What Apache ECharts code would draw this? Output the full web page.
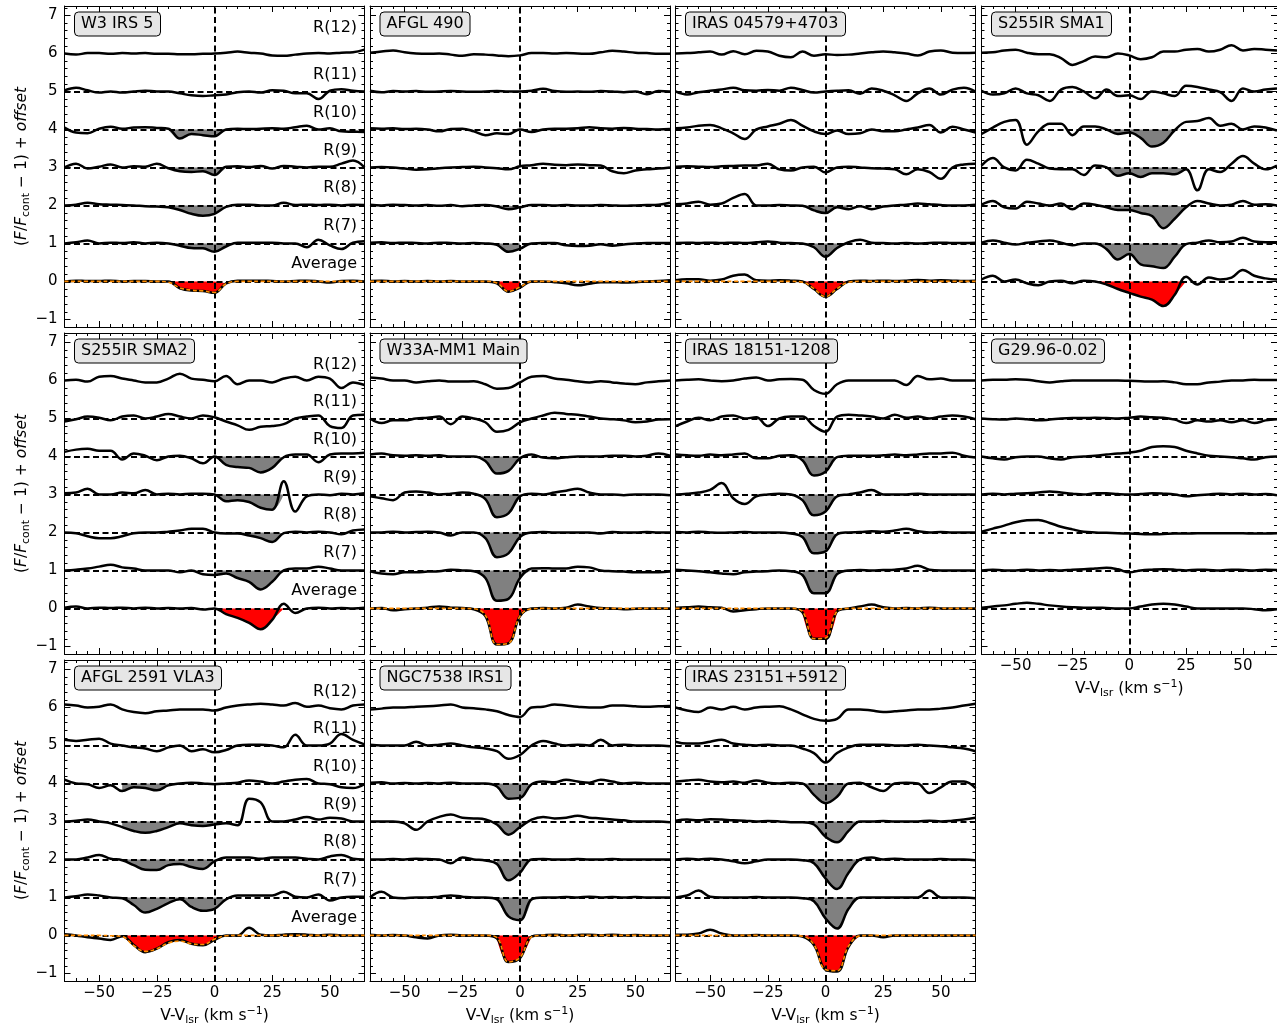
<!DOCTYPE html>
<html>
<head>
<meta charset="utf-8">
<title>R-branch absorption spectra</title>
<script src="https://cdn.jsdelivr.net/npm/echarts@6.0.0/dist/echarts.min.js"></script>
<style>
  html, body { margin: 0; padding: 0; background: #ffffff; }
  #chart { width: 1277px; height: 1027px; }
</style>
</head>
<body>
<div id="chart"></div>
<script>
// velocity grid, km/s
const velocity = [-65, -60, -55, -50, -45, -40, -35, -30, -25,  -20, -15, -10, -5, 0, 5, 10, 15, 20,  25, 30, 35, 40, 45, 50, 55, 60, 65];
const offsets = [6, 5, 4, 3, 2, 1, 0];
const lineNames = ['R(12)', 'R(11)', 'R(10)', 'R(9)', 'R(8)', 'R(7)', 'Average'];
const xTickLabels = [-50, -25, 0, 25, 50];
const yTickLabels = [-1, 0, 1, 2, 3, 4, 5, 6, 7];

// F/Fcont - 1 per line (offset added when drawn)
// W3 IRS 5
const w3_r12 = [0, -0.03, 0.01, 0.01, -0.01, 0.01, 0, 0.01, -0.01,  -0.01, -0.02, -0.02, -0.01, 0, 0.02, 0.05, 0.02, 0,  -0.05, -0.06, -0.03, 0, 0.01, 0, 0.02, 0.03, 0.1];
const w3_r11 = [0.03, 0.1, 0.03, -0.03, 0, -0.03, 0, 0.02, 0,  0, -0.05, -0.1, -0.12, -0.1, -0.08, -0.02, 0, -0.03,  0.03, 0.02, -0.05, -0.05, -0.2, 0.02, 0.06, 0.02, 0];
const w3_r10 = [0.05, -0.08, -0.1, 0.02, 0.07, 0.02, 0.05, 0.06, 0.04,  0.02, -0.24, -0.12, -0.15, -0.18, 0, 0.02, 0.01, 0.02,  0.03, 0.02, 0.06, 0.1, 0, 0.03, -0.05, -0.06, -0.07];
const w3_r9  = [0, 0.1, -0.03, 0.02, 0.08, 0, 0.03, 0.02, 0.1,  -0.02, -0.1, -0.12, -0.1, -0.2, 0.02, 0.03, 0.01, 0.04,  -0.03, 0.04, 0.02, 0, 0.02, 0.02, 0.1, 0.18, 0];
const w3_r8  = [0, 0.02, 0.07, 0.03, 0.02, 0.01, 0, -0.02, -0.03,  -0.05, -0.12, -0.22, -0.27, -0.22, -0.04, 0.02, 0.02, 0,  0, 0.07, 0.01, 0.02, 0.01, 0.02, 0, 0.02, 0.01];
const w3_r7  = [0, 0.03, 0.08, 0, 0.02, 0.01, 0.03, 0, 0.02,  0, -0.06, -0.12, -0.13, -0.22, -0.08, 0.02, 0.02, 0.02,  0.02, 0, 0, -0.1, 0.1, -0.05, -0.15, 0.02, 0.06];
const w3_avg = [0, 0.02, 0.01, 0.01, 0.02, 0, 0.01, 0.01, 0,  0, -0.18, -0.24, -0.25, -0.3, -0.05, 0.02, 0.02, 0.02,  0.01, 0, 0.01, 0.02, 0, -0.03, 0.01, 0.02, 0];
const w3_fit = [0, 0, 0, 0, 0, 0, 0, 0, 0,  -0.02, -0.17, -0.23, -0.25, -0.29, -0.06, 0, 0, 0,  0, 0, 0, 0, 0, 0, 0, 0, 0];

// AFGL 490
const a490_r12 = [0.02, 0.05, 0.08, 0.03, 0, -0.01, 0, -0.03, -0.06,  -0.02, -0.03, -0.05, -0.07, -0.05, 0.01, 0.01, 0, 0.01,  0, -0.01, 0.03, 0.07, 0.05, 0.02, 0.01, -0.01, -0.01];
const a490_r11 = [0.02, -0.02, 0.01, 0, 0.01, -0.01, 0, 0.01, 0,  -0.01, 0, 0.01, 0, 0, 0.02, 0.07, 0.01, -0.01,  0, -0.01, 0.01, 0, -0.02, 0, -0.07, 0.01, 0];
const a490_r10 = [0.03, 0.02, 0.03, 0.01, 0.02, 0, -0.05, 0.01, 0.02,  -0.05, -0.15, -0.1, -0.12, 0, -0.07, 0, 0.02, 0.02,  0.03, 0.06, 0.03, 0.02, 0.04, 0.02, 0.01, 0, 0.01];
const a490_r9  = [0, 0.01, 0, -0.03, -0.06, -0.05, -0.02, 0, 0.01,  0.02, 0, -0.02, -0.05, 0.03, 0.06, 0.1, 0.07, 0.06,  0.08, 0.06, 0.05, -0.1, -0.15, -0.08, -0.05, -0.03, 0];
const a490_r8  = [0.02, 0, 0.02, 0.01, 0, 0.01, -0.01, 0.01, -0.02,  0, 0.01, -0.03, -0.1, -0.05, 0.01, 0.01, 0, 0.01,  0, 0, 0.01, 0, -0.01, 0, 0.01, 0.02, 0.07];
const a490_r7  = [0.02, 0.03, 0.01, 0.02, 0.01, 0, 0.02, 0.01, 0,  0.01, 0, -0.04, -0.22, -0.14, 0, 0.01, 0.01, -0.05,  -0.07, -0.06, -0.02, -0.06, -0.03, 0, 0.01, 0.01, 0.01];
const a490_avg = [0.01, 0.02, 0, 0.01, 0, 0.01, 0, 0.01, 0,  0, 0, -0.05, -0.27, -0.16, 0, 0, -0.02, -0.05,  -0.1, -0.06, -0.02, -0.02, -0.03, -0.02, 0, 0.01, 0.03];
const a490_fit = [0, 0, 0, 0, 0, 0, 0, 0, 0,  0, 0, -0.04, -0.26, -0.15, 0, 0, 0, 0,  0, 0, 0, 0, 0, 0, 0, 0, 0];

// IRAS 04579+4703
const i0457_r12 = [0, 0.01, 0.03, 0.05, -0.03, 0.06, -0.02, 0.07, 0.05,  -0.06, -0.1, 0.05, -0.06, -0.02, -0.04, -0.03, 0, 0.03,  0.05, 0.03, 0, -0.05, 0.05, 0.08, 0.02, 0.01, 0.02];
const i0457_r11 = [0, -0.08, -0.02, 0.02, 0.05, 0.1, 0.03, 0.02, 0.04,  0.02, 0.1, 0.04, -0.03, 0, 0.02, 0.03, -0.06, 0.08,  0.02, -0.1, -0.25, -0.05, 0.08, -0.08, 0.05, 0.1, 0];
const i0457_r10 = [0.03, 0.05, 0.1, 0.12, 0.03, -0.1, -0.25, 0, 0.08,  0.15, 0.25, 0.1, -0.05, -0.12, -0.03, -0.12, -0.1, 0,  -0.05, -0.05, 0, 0.05, 0.12, -0.08, 0.07, 0, -0.08];
const i0457_r9  = [0.02, 0.03, 0.02, 0.01, 0.03, 0.04, 0.05, 0.05, 0.1,  -0.05, -0.08, 0, 0.02, -0.13, 0, 0.02, 0, -0.02,  -0.03, -0.05, -0.18, -0.05, -0.12, -0.3, 0, 0.08, 0.1];
const i0457_r8  = [0.03, 0.05, 0.1, 0.02, 0.05, 0.2, 0.3, 0, 0,  0.01, 0, -0.01, -0.13, -0.2, -0.05, -0.1, -0.02, -0.1,  -0.03, 0, 0.02, 0.05, 0.03, 0.01, 0, 0, 0.02];
const i0457_r7  = [0.01, 0.02, 0.01, 0.02, 0.01, 0.02, 0.01, 0.03, 0.05,  0.02, 0.01, 0, -0.1, -0.35, -0.12, 0.03, 0.1, 0.02,  0.01, 0, 0.01, 0, 0.01, 0.02, 0.01, 0.01, 0.02];
const i0457_avg = [0.03, 0.06, 0.06, 0.02, 0.05, 0.15, 0.18, 0.03, 0.02,  0.03, 0.02, 0, -0.2, -0.4, -0.2, 0, 0.02, 0.01,  0.02, 0.01, 0.02, 0.04, 0.02, 0.03, 0.02, 0.01, 0.02];
const i0457_fit = [0, 0, 0, 0, 0, 0, 0, 0, 0,  0, 0, -0.02, -0.19, -0.4, -0.19, -0.02, 0, 0,  0, 0, 0, 0, 0, 0, 0, 0, 0];

// S255IR SMA1
const s1_r12 = [0.02, 0.03, 0.08, 0.1, 0.02, -0.02, -0.02, -0.12, -0.3,  -0.2, -0.08, -0.1, 0, -0.05, -0.15, -0.1, 0.05, 0.05,  0.1, 0.12, 0.05, 0.1, 0.22, 0.08, 0.12, 0.1, 0.08];
const s1_r11 = [0.02, -0.08, -0.05, 0.08, -0.05, -0.1, -0.25, 0.05, 0.12,  0, -0.18, 0.05, -0.12, -0.1, -0.2, 0, -0.05, -0.12,  0.15, 0.12, 0.05, -0.02, -0.25, 0.08, 0, 0.05, 0.08];
const s1_r10 = [-0.12, 0.05, 0.2, 0.25, -0.4, -0.05, 0.15, 0.15, -0.15,  0.08, 0.08, 0, -0.12, -0.08, -0.22, -0.45, -0.35, -0.02,  0.2, 0.22, 0.3, 0.1, 0.15, 0, 0.08, 0.05, -0.03];
const s1_r9  = [0.05, 0.25, 0, -0.08, 0.2, 0.1, -0.03, -0.05, -0.05,  -0.2, 0.05, 0, -0.22, -0.15, -0.25, -0.15, -0.15, -0.18,  -0.05, -0.6, -0.05, -0.12, 0.1, 0.3, 0.1, -0.05, 0.05];
const s1_r8  = [0.02, 0.12, -0.05, -0.08, 0.1, 0.05, 0, 0.05, -0.1,  0.05, 0.02, -0.05, -0.12, -0.12, -0.2, -0.28, -0.6, -0.35,  -0.05, 0.12, 0.05, 0, 0.02, 0.12, 0.02, 0.03, 0];
const s1_r7  = [0.02, 0.08, 0.02, -0.03, 0.02, 0.05, 0.08, 0.02, -0.05,  0, 0, -0.15, -0.42, -0.28, -0.55, -0.6, -0.65, -0.35,  -0.02, 0.02, 0.08, 0.03, 0.05, 0.15, 0.05, 0.03, 0.03];
const s1_avg = [0.05, 0.15, 0, 0.05, -0.05, -0.1, 0, 0.02, -0.05,  0.02, 0, -0.08, -0.2, -0.3, -0.4, -0.48, -0.65, -0.35,  0.12, -0.08, 0.1, 0.05, 0.1, 0.3, 0.15, 0.08, 0.05];

// S255IR SMA2
const s2_r12 = [0, 0.02, -0.03, 0.1, 0.12, 0.05, 0, -0.05, -0.05,  0.05, 0.18, 0.05, 0.02, -0.02, 0.12, -0.1, 0, 0,  -0.05, 0.05, 0.1, 0, 0.1, 0.05, -0.2, -0.05, -0.12];
const s2_r11 = [-0.08, -0.02, 0.05, 0.02, -0.05, 0.05, 0.08, 0, 0.05,  0.12, 0.05, 0, 0.08, 0.03, -0.08, -0.18, -0.3, -0.22,  -0.2, -0.15, 0, 0.05, 0.08, -0.2, -0.25, 0.08, 0.1];
const s2_r10 = [0.12, 0.18, 0.2, 0.15, 0.15, -0.08, 0.08, 0.02, -0.1,  0, 0.02, -0.05, -0.18, 0, -0.22, -0.28, -0.3, -0.42,  -0.3, -0.02, 0.05, 0.05, -0.15, 0.05, 0.08, 0.08, 0.1];
const s2_r9  = [0.03, 0.05, 0.15, 0, 0, 0.05, 0.03, 0.12, 0,  0.02, 0, 0.02, 0.02, 0, -0.18, -0.15, -0.2, -0.35,  -0.4, 0.35, -0.45, -0.05, 0, -0.02, 0.02, 0, 0.03];
const s2_r8  = [0, -0.02, -0.1, -0.15, -0.15, -0.1, -0.02, 0, 0,  0.02, 0.05, 0.1, 0.1, 0, -0.03, -0.03, -0.08, -0.15,  -0.25, -0.02, 0.02, 0, 0.02, 0, -0.05, 0.05, 0.08];
const s2_r7  = [0, 0.02, 0.05, 0.1, 0.15, 0.08, 0.05, 0, 0,  0, -0.05, 0, -0.1, -0.12, -0.08, -0.2, -0.3, -0.5,  -0.3, 0, 0.05, 0.05, 0.1, 0.05, 0, 0, 0];
const s2_avg = [0.02, 0.05, 0, 0.02, 0.01, 0.02, 0, 0.02, 0,  0.01, 0, 0.01, -0.03, 0, -0.15, -0.25, -0.38, -0.55,  -0.3, 0.12, -0.12, 0, 0.02, 0, 0.01, 0, 0.02];

// W33A-MM1 Main
const w33_r12 = [0.08, 0.05, 0, 0, -0.05, -0.02, 0, -0.03, -0.03,  -0.02, -0.1, -0.22, -0.2, -0.05, 0.1, 0.12, 0.05, 0.02,  -0.02, -0.05, -0.02, -0.05, -0.08, -0.1, -0.05, -0.02, 0];
const w33_r11 = [0, -0.12, -0.05, -0.05, 0, 0.02, 0.05, -0.15, 0.05,  0, -0.1, -0.35, -0.3, -0.1, 0, 0.08, 0.15, 0.12,  0.1, 0.05, 0, -0.02, -0.05, -0.1, -0.08, -0.03, -0.02];
const w33_r10 = [0.05, 0.08, 0.03, 0.02, 0.03, 0.02, 0.03, 0, 0,  0, -0.12, -0.45, -0.38, -0.05, 0.05, -0.03, -0.05, -0.02,  0, 0, 0, 0.02, 0.02, 0, 0.02, 0.08, 0.02];
const w33_r9  = [-0.05, -0.1, -0.15, 0.05, 0.08, 0.05, 0, 0.02, 0.05,  0.02, -0.12, -0.6, -0.5, -0.05, 0.02, 0, 0.05, 0.1,  0.15, 0.05, 0, 0, -0.02, 0, 0, 0, -0.02];
const w33_r8  = [0, 0, 0.02, 0, 0.01, 0.02, 0, -0.08, 0,  0, -0.15, -0.65, -0.55, -0.12, 0, 0.01, 0, 0,  0, 0, -0.03, 0.01, 0, 0, 0.01, 0, 0];
const w33_r7  = [-0.02, -0.08, -0.1, -0.05, -0.05, -0.03, -0.02, 0.02, 0,  -0.02, -0.2, -0.8, -0.75, -0.2, 0.05, 0.06, 0.05, 0.05,  0.1, 0.08, 0, -0.02, -0.03, -0.05, -0.05, -0.05, -0.03];
const w33_avg = [0, 0.01, -0.05, -0.02, 0, 0.02, 0.05, 0.02, 0.01,  -0.02, -0.2, -0.95, -0.92, -0.2, 0, 0.01, 0, 0.02,  0.1, 0.05, 0.01, 0, -0.02, -0.01, 0, 0, 0];
const w33_fit = [0, 0, 0, 0, 0, 0, 0, 0, 0,  -0.01, -0.18, -0.95, -0.92, -0.2, -0.01, 0, 0, 0,  0, 0, 0, 0, 0, 0, 0, 0, 0];

// IRAS 18151-1208
const i18_r12 = [0, 0.02, 0.03, 0, -0.02, 0, 0.05, 0.08, 0,  0.03, 0.04, 0.02, -0.25, -0.35, -0.1, 0, 0, 0,  0, 0, -0.12, 0.12, 0.03, 0.05, 0, 0, 0];
const i18_r11 = [-0.2, -0.08, 0.02, -0.05, 0.05, 0.08, 0, 0.03, -0.2,  0, 0.05, 0.05, -0.2, -0.35, 0.05, 0.1, 0.08, 0.05,  0, 0.1, 0.02, 0.05, 0, 0.05, 0.08, 0.05, -0.02];
const i18_r10 = [0.05, 0.03, 0.02, 0.05, 0.03, 0.05, 0.08, -0.05, -0.05,  0.02, 0.03, -0.1, -0.5, -0.4, -0.02, 0.02, 0.02, 0.02,  0.03, 0.05, 0.03, 0.05, 0.08, 0.08, 0.1, 0.02, -0.03];
const i18_r9  = [0, 0.02, 0.05, 0.12, 0.3, -0.1, -0.25, -0.05, 0,  0.02, 0, -0.15, -0.55, -0.45, -0.05, 0, 0.05, 0.12,  0, 0, 0, 0.02, 0, 0, 0, 0, 0];
const i18_r8  = [0.01, 0, 0.02, 0, -0.01, 0, 0.01, 0, 0,  0, -0.03, -0.12, -0.55, -0.5, -0.05, 0, 0.01, 0.03,  0.02, 0.05, 0.1, 0.03, 0, 0.01, 0, 0, 0];
const i18_r7  = [0.02, 0, -0.02, -0.05, -0.08, -0.1, -0.05, -0.03, -0.02,  0, -0.02, -0.12, -0.6, -0.6, -0.1, 0, 0.01, 0,  0.01, 0.02, 0.05, 0.12, 0.02, 0, 0, 0, 0];
const i18_avg = [0.02, 0.03, 0.05, 0.03, 0.02, -0.08, -0.05, -0.02, 0,  0, 0, -0.1, -0.8, -0.8, -0.08, 0, 0.05, 0.1,  0.03, 0, 0.01, 0, 0.02, 0, 0, 0, 0];
const i18_fit = [0, 0, 0, 0, 0, 0, 0, 0, 0,  0, 0, -0.08, -0.8, -0.78, -0.08, 0, 0, 0,  0, 0, 0, 0, 0, 0, 0, 0, 0];

// G29.96-0.02
const g29_r12 = [0, 0.02, 0.02, 0.03, 0.02, -0.02, -0.05, -0.02, 0,  0, 0, 0, 0, -0.01, -0.02, -0.03, -0.02, -0.05,  -0.1, -0.1, -0.05, -0.03, 0, 0, 0.02, 0.01, 0.01];
const g29_r11 = [0, -0.02, -0.03, 0, -0.02, -0.05, -0.03, 0, 0.01,  0.01, 0.02, 0.01, 0, 0.02, 0.05, 0.03, 0.02, -0.03,  -0.12, -0.05, -0.08, -0.05, -0.1, -0.05, -0.12, -0.05, -0.02];
const g29_r10 = [0, -0.05, -0.08, -0.02, 0, 0, -0.05, -0.08, -0.02,  0, 0.02, 0.05, 0.08, 0.1, 0.15, 0.25, 0.27, 0.25,  0.15, 0.08, 0.02, 0, -0.02, -0.05, -0.08, -0.02, 0];
const g29_r9  = [0, 0.02, 0, 0.02, 0.03, 0.05, 0.08, 0.05, 0.02,  0, 0.03, 0.03, 0.01, 0, 0.01, 0.03, 0.02, 0,  -0.05, -0.02, 0, 0.02, 0, 0.02, 0, 0.01, -0.02];
const g29_r8  = [0.02, 0.1, 0.18, 0.27, 0.32, 0.33, 0.25, 0.15, 0.08,  0.02, 0, -0.01, -0.02, -0.03, -0.04, -0.05, -0.04, -0.03,  -0.03, -0.02, -0.02, -0.02, -0.02, -0.02, -0.03, -0.03, -0.02];
const g29_r7  = [0, 0.02, 0, 0, 0.02, 0, 0.01, 0, 0.02,  0.03, 0.05, 0.07, 0.03, -0.05, 0, 0.02, 0.03, 0.02,  0, 0.02, 0.01, 0, 0.02, 0.01, 0, 0.02, 0.01];
const g29_avg = [0.02, 0.05, 0.08, 0.12, 0.15, 0.12, 0.08, 0.05, 0.03,  0.02, 0.02, 0.01, 0, 0, 0.05, 0.1, 0.12, 0.1,  0.05, 0, 0, 0, 0, 0, -0.02, -0.05, -0.02];

// AFGL 2591 VLA3
const a2591_r12 = [0.08, 0.05, 0, 0.02, 0.08, -0.05, -0.12, -0.15, -0.1,  -0.08, -0.05, -0.05, -0.05, -0.08, 0, 0.05, 0.08, 0.1,  0.08, 0.05, 0.12, 0.02, 0.05, -0.02, -0.05, 0.05, 0.08];
const a2591_r11 = [0.15, 0.12, 0.15, 0.18, 0.05, 0, -0.05, -0.08, -0.15,  -0.05, 0, -0.15, -0.1, -0.18, -0.12, 0, 0.02, 0.02,  0, -0.05, 0.28, 0, 0, 0.05, 0.3, 0.15, 0.03];
const a2591_r10 = [0.1, 0, -0.02, -0.12, -0.05, -0.2, -0.1, -0.12, -0.18,  -0.05, 0, 0.02, 0, -0.02, 0, 0.02, 0.08, 0.05,  0, 0.05, 0.1, 0.12, 0, -0.02, -0.1, -0.12, -0.02];
const a2591_r9  = [0, 0.02, 0.05, 0, -0.05, -0.15, -0.25, -0.3, -0.25,  -0.15, -0.05, -0.1, -0.12, -0.08, -0.05, -0.1, 0.6, 0.5,  0, 0, 0.05, 0.12, 0.05, 0.1, 0.08, 0, 0];
const a2591_r8  = [0, 0, 0.05, 0.12, 0.02, -0.02, -0.15, -0.27, -0.28,  -0.15, -0.12, -0.2, -0.25, -0.05, 0.05, 0.05, 0.05, 0.02,  0.05, 0.05, 0.05, 0.02, 0, 0.08, 0.12, 0.02, 0];
const a2591_r7  = [0, 0.03, 0.08, 0.05, 0, -0.02, -0.2, -0.4, -0.3,  -0.15, -0.05, -0.25, -0.35, -0.3, -0.05, 0.05, 0.05, 0.05,  0.05, 0.15, 0.02, 0, 0.08, -0.08, 0, 0.02, 0.02];
const a2591_avg = [0.03, 0, -0.05, -0.08, -0.12, -0.02, -0.25, -0.44, -0.35,  -0.18, -0.12, -0.22, -0.26, -0.12, 0, 0, 0.2, 0.02,  0, 0.02, 0.03, 0.02, 0, 0.02, 0, 0, 0];
const a2591_fit = [0, 0, 0, 0, -0.01, -0.03, -0.27, -0.42, -0.35,  -0.2, -0.15, -0.22, -0.24, -0.1, -0.01, 0, 0, 0,  0, 0, 0, 0, 0, 0, 0, 0, 0];

// NGC7538 IRS1
const n75_r12 = [-0.05, -0.03, 0, 0, 0.02, 0.03, 0.05, 0.08, 0,  -0.02, -0.05, -0.1, -0.2, -0.25, 0, 0.02, 0.08, 0.05,  0.02, 0, 0, 0.05, 0.05, 0.03, 0.02, 0.03, 0.04];
const n75_r11 = [0.02, 0, 0, 0, 0.1, 0, 0.02, 0.05, 0,  -0.05, -0.08, -0.15, -0.35, -0.25, 0, 0.12, 0.05, 0,  0.02, 0, 0.15, 0, 0.02, 0, 0, 0, -0.02];
const n75_r10 = [0.02, 0.03, 0, 0.01, 0, 0.01, 0, 0.02, 0,  0, 0, -0.08, -0.4, -0.38, -0.02, 0.05, 0.03, 0.1,  0.05, 0.02, 0.1, 0.05, 0, 0.02, 0, 0, 0];
const n75_r9  = [0, 0, 0, -0.05, -0.22, 0, 0.12, 0.18, 0.1,  0.08, 0.05, -0.08, -0.35, -0.15, 0.05, 0.12, 0.08, 0.1,  0.15, 0.1, 0.08, 0.05, 0.03, 0, 0, 0, -0.02];
const n75_r8  = [0, 0, 0.01, 0, 0.02, 0.01, 0, -0.1, 0.05,  0, -0.03, -0.12, -0.55, -0.35, 0, 0.01, 0, 0,  0.01, 0, 0, 0.01, 0, 0, 0, 0, 0];
const n75_r7  = [0, 0.15, 0, -0.02, 0, 0, 0.02, 0.05, 0.02,  0, 0, -0.05, -0.5, -0.6, -0.05, 0, 0, 0.01,  0, 0.02, 0, 0.01, 0, 0.01, 0, 0, 0];
const n75_avg = [0.02, 0, 0.01, 0, -0.05, -0.08, 0, 0.02, 0,  0, 0, -0.08, -0.7, -0.6, -0.03, 0, 0.02, 0,  0.01, 0.02, 0, 0.02, 0, 0.01, 0, 0, 0];
const n75_fit = [0, 0, 0, 0, 0, 0, 0, 0, 0,  0, 0, -0.06, -0.7, -0.58, -0.04, 0, 0, 0,  0, 0, 0, 0, 0, 0, 0, 0, 0];

// IRAS 23151+5912
const i23_r12 = [0, -0.08, -0.12, 0, -0.05, 0.02, -0.05, 0, 0.02,  0.03, -0.05, -0.18, -0.3, -0.35, -0.3, -0.05, -0.05, -0.08,  -0.12, -0.1, -0.08, -0.05, -0.05, -0.03, 0, 0.05, 0.1];
const i23_r11 = [0.1, 0.05, 0.05, 0.1, 0.15, 0.05, 0.02, 0, 0.02,  0, 0, -0.08, -0.2, -0.45, -0.2, -0.05, 0.02, 0.02,  0.02, 0, 0, 0.02, 0, -0.02, -0.05, -0.08, -0.15];
const i23_r10 = [0.05, 0.08, 0.1, 0.05, 0.03, 0.05, 0.02, 0.08, 0.02,  0, 0.02, 0, -0.3, -0.52, -0.35, 0, 0.02, -0.1,  -0.2, 0, 0.02, 0, -0.25, -0.1, 0.05, 0.05, -0.12];
const i23_r9  = [0.02, 0.05, 0.03, 0.06, 0.05, 0.03, 0.02, 0, 0.01,  0, -0.02, -0.02, -0.08, -0.4, -0.55, -0.25, 0, 0,  0.01, 0, 0, 0, 0.02, 0, 0.02, 0.05, 0.1];
const i23_r8  = [0, 0.02, 0, 0.02, 0, -0.05, -0.1, -0.05, 0,  0, 0, -0.02, -0.1, -0.5, -0.78, -0.35, 0, 0.05,  0, 0.02, 0, 0, 0, 0.01, 0, 0, -0.02];
const i23_r7  = [0, 0.05, 0.18, 0.02, 0, 0, 0, 0.01, 0,  0, 0, -0.02, -0.1, -0.55, -0.82, -0.3, 0, 0,  0, 0, 0, 0, 0.18, 0, 0, 0, -0.02];
const i23_avg = [0.02, 0.02, 0.05, 0.15, 0.05, 0, 0, 0.01, 0,  0, 0, -0.03, -0.25, -0.9, -0.95, -0.3, 0, 0,  -0.05, 0, 0, 0, 0, 0, 0, 0, 0];
const i23_fit = [0, 0, 0, 0, 0, 0, 0, 0, 0,  0, 0, -0.02, -0.24, -0.9, -0.93, -0.28, -0.01, 0,  0, 0, 0, 0, 0, 0, 0, 0, 0];

// velocity range of the shaded absorption, per source
const w3_window = [-20, 5];
const a490_window = [-10, 0];
const i0457_window = [-10, 10];
const s1_window = [-15, 25];
const s2_window = [0, 30];
const w33_window = [-20, 5];
const i18_window = [-10, 5];
const a2591_window = [-40, 5];
const n75_window = [-10, 5];
const i23_window = [-10, 15];

const panels = [
  { name: 'W3 IRS 5', row: 0, col: 0, spectra: [w3_r12, w3_r11, w3_r10, w3_r9, w3_r8, w3_r7, w3_avg], fit: w3_fit, win: w3_window, fillFrom: 2 },
  { name: 'AFGL 490', row: 0, col: 1, spectra: [a490_r12, a490_r11, a490_r10, a490_r9, a490_r8, a490_r7, a490_avg], fit: a490_fit, win: a490_window, fillFrom: 4 },
  { name: 'IRAS 04579+4703', row: 0, col: 2, spectra: [i0457_r12, i0457_r11, i0457_r10, i0457_r9, i0457_r8, i0457_r7, i0457_avg], fit: i0457_fit, win: i0457_window, fillFrom: 4 },
  { name: 'S255IR SMA1', row: 0, col: 3, spectra: [s1_r12, s1_r11, s1_r10, s1_r9, s1_r8, s1_r7, s1_avg], fit: null, win: s1_window, fillFrom: 2 },
  { name: 'S255IR SMA2', row: 1, col: 0, spectra: [s2_r12, s2_r11, s2_r10, s2_r9, s2_r8, s2_r7, s2_avg], fit: null, win: s2_window, fillFrom: 2 },
  { name: 'W33A-MM1 Main', row: 1, col: 1, spectra: [w33_r12, w33_r11, w33_r10, w33_r9, w33_r8, w33_r7, w33_avg], fit: w33_fit, win: w33_window, fillFrom: 2 },
  { name: 'IRAS 18151-1208', row: 1, col: 2, spectra: [i18_r12, i18_r11, i18_r10, i18_r9, i18_r8, i18_r7, i18_avg], fit: i18_fit, win: i18_window, fillFrom: 2 },
  { name: 'G29.96-0.02', row: 1, col: 3, spectra: [g29_r12, g29_r11, g29_r10, g29_r9, g29_r8, g29_r7, g29_avg], fit: null, win: null, fillFrom: 7, xLabels: true },
  { name: 'AFGL 2591 VLA3', row: 2, col: 0, spectra: [a2591_r12, a2591_r11, a2591_r10, a2591_r9, a2591_r8, a2591_r7, a2591_avg], fit: a2591_fit, win: a2591_window, fillFrom: 2, xLabels: true },
  { name: 'NGC7538 IRS1', row: 2, col: 1, spectra: [n75_r12, n75_r11, n75_r10, n75_r9, n75_r8, n75_r7, n75_avg], fit: n75_fit, win: n75_window, fillFrom: 2, xLabels: true },
  { name: 'IRAS 23151+5912', row: 2, col: 2, spectra: [i23_r12, i23_r11, i23_r10, i23_r9, i23_r8, i23_r7, i23_avg], fit: i23_fit, win: i23_window, fillFrom: 2, xLabels: true }
];

panels.forEach(p => {
  p.spectra.concat(p.fit ? [p.fit] : []).forEach((a, k) => {
    if (a.length !== velocity.length) throw new Error(p.name + ' line ' + k + ' has ' + a.length + ' points');
  });
});

const FONT = 'DejaVu Sans';
const colLeft = [64.5, 370, 675.5, 981.5];
const rowTop = [6, 333, 660];
const gridW = 300, gridH = 321;
const xMin = -65, xMax = 65, yMin = -1.2, yMax = 7.25;
const minus = v => String(v).replace('-', '\u2212');

const grids = [], xAxes = [], yAxes = [], series = [], titles = [];

function tickAxis(base, major, len) {
  return Object.assign({}, base, {
    splitLine: { show: false },
    axisLine: { show: major, onZero: false, lineStyle: { color: '#000', width: 1 } },
    axisTick: { show: true, inside: true, length: len, lineStyle: { color: '#000', width: 1 } },
    axisLabel: { show: false }
  });
}

panels.forEach((p, g) => {
  const left = colLeft[p.col], top = rowTop[p.row];
  grids.push({ left: left, top: top, width: gridW, height: gridH });

  // x axes: bottom major, bottom minor, top major, top minor
  const xb = { type: 'value', gridIndex: g, min: xMin, max: xMax };
  const xMajB = tickAxis(Object.assign({ position: 'bottom' }, xb), true, 6);
  xMajB.axisTick.customValues = xTickLabels;
  if (p.xLabels) {
    xMajB.axisLabel = { show: true, customValues: xTickLabels, formatter: minus, fontSize: 15, color: '#000', margin: 5, fontFamily: FONT };
    xMajB.name = '{p|V-V}{s|lsr}{p| (km s}{sup|\u22121}{p|)}';
    xMajB.nameLocation = 'middle';
    xMajB.nameGap = 25;
    xMajB.nameTextStyle = { color: '#000', fontFamily: FONT, rich: {
      p: { fontSize: 15.5, lineHeight: 20, fontFamily: FONT, color: '#000' },
      s: { fontSize: 11, lineHeight: 12, verticalAlign: 'bottom', fontFamily: FONT, color: '#000' },
      sup: { fontSize: 11, lineHeight: 12, verticalAlign: 'top', fontFamily: FONT, color: '#000' } } };
  }
  const xMinB = tickAxis(Object.assign({ position: 'bottom', interval: 5 }, xb), false, 3);
  const xMajT = tickAxis(Object.assign({ position: 'top' }, xb), true, 6);
  xMajT.axisTick.customValues = xTickLabels;
  const xMinT = tickAxis(Object.assign({ position: 'top', interval: 5 }, xb), false, 3);
  xAxes.push(xMajB, xMinB, xMajT, xMinT);

  // y axes: left major, left minor, right major, right minor
  const yb = { type: 'value', gridIndex: g, min: yMin, max: yMax };
  const yMajL = tickAxis(Object.assign({ position: 'left' }, yb), true, 6);
  yMajL.axisTick.customValues = yTickLabels;
  if (p.col === 0) {
    yMajL.axisLabel = { show: true, customValues: yTickLabels, formatter: minus, fontSize: 15, color: '#000', margin: 7, fontFamily: FONT };
    yMajL.name = '{p|(}{i|F}{p|/}{i|F}{s|cont}{p| \u2212 1) + }{i|offset}';
    yMajL.nameLocation = 'middle';
    yMajL.nameGap = 33;
    yMajL.nameTextStyle = { color: '#000', fontFamily: FONT, rich: {
      p: { fontSize: 15.5, lineHeight: 20, fontFamily: FONT, color: '#000' },
      i: { fontSize: 15.5, lineHeight: 20, fontStyle: 'italic', fontFamily: FONT, color: '#000' },
      s: { fontSize: 11, lineHeight: 12, verticalAlign: 'bottom', fontFamily: FONT, color: '#000' } } };
  }
  const yMinL = tickAxis(Object.assign({ position: 'left', interval: 0.2 }, yb), false, 3);
  const yMajR = tickAxis(Object.assign({ position: 'right' }, yb), true, 6);
  yMajR.axisTick.customValues = yTickLabels;
  const yMinR = tickAxis(Object.assign({ position: 'right', interval: 0.2 }, yb), false, 3);
  yAxes.push(yMajL, yMinL, yMajR, yMinR);

  const ai = 4 * g;

  titles.push({
    text: p.name, left: left + 9.5, top: top + 5.5,
    backgroundColor: '#e6e6e6', borderColor: '#000', borderWidth: 1, borderRadius: 4,
    padding: [3, 7, 3, 7],
    textStyle: { fontSize: 16, fontWeight: 'normal', color: '#000', fontFamily: FONT, lineHeight: 19 }
  });

  // spectra and shaded absorption
  p.spectra.forEach((spec, k) => {
    const y0 = offsets[k];
    series.push({
      type: 'line', xAxisIndex: ai, yAxisIndex: ai, z: 4, silent: true,
      data: velocity.map((v, i) => [v, y0 + spec[i]]),
      smooth: 0.4, symbol: 'none',
      lineStyle: { color: '#000', width: 2.5 }
    });
    if (p.win && k >= p.fillFrom) {
      const pts = [];
      velocity.forEach((v, i) => {
        if (v >= p.win[0] && v <= p.win[1]) pts.push([v, y0 + Math.min(0, spec[i])]);
      });
      series.push({
        type: 'line', xAxisIndex: ai, yAxisIndex: ai, z: 2, silent: true,
        data: pts, smooth: 0.4, symbol: 'none',
        lineStyle: { width: 0 },
        areaStyle: { origin: y0, color: k === 6 ? '#ff0000' : '#808080', opacity: 1 }
      });
    }
  });

  // Gaussian fit to the average
  if (p.fit) {
    series.push({
      type: 'line', xAxisIndex: ai, yAxisIndex: ai, z: 5, silent: true,
      data: velocity.map((v, i) => [v, p.fit[i]]),
      smooth: 0.4, symbol: 'none',
      lineStyle: { color: '#ff8c00', width: 1.6, type: [4, 2.5] }
    });
  }

  // offset baselines and v = 0
  series.push({
    type: 'line', xAxisIndex: ai, yAxisIndex: ai, z: 3, silent: true, data: [],
    markLine: {
      silent: true, symbol: ['none', 'none'], animation: false,
      label: { show: false },
      lineStyle: { color: '#000', width: 2, type: [6, 3.5] },
      data: [{ yAxis: 0 }, { yAxis: 1 }, { yAxis: 2 }, { yAxis: 3 }, { yAxis: 4 }, { yAxis: 5 }, { xAxis: 0 }]
    }
  });

  // line names in the first column
  if (p.col === 0) {
    series.push({
      type: 'scatter', xAxisIndex: ai, yAxisIndex: ai, z: 6, silent: true,
      symbolSize: 1, itemStyle: { color: 'rgba(0,0,0,0)', opacity: 1 },
      data: lineNames.map((n, k) => [62, k === 0 ? (p.row === 0 ? 6.67 : 6.42) : offsets[k] + 0.45, n]),
      label: { show: true, position: 'left', distance: 0, formatter: q => q.value[2],
               fontSize: 16, color: '#000', opacity: 1, fontFamily: FONT }
    });
  }
});

const chart = echarts.init(document.getElementById('chart'));
chart.setOption({
  animation: false,
  backgroundColor: '#ffffff',
  textStyle: { fontFamily: FONT, color: '#000' },
  title: titles,
  grid: grids,
  xAxis: xAxes,
  yAxis: yAxes,
  series: series
});
</script>
</body>
</html>
